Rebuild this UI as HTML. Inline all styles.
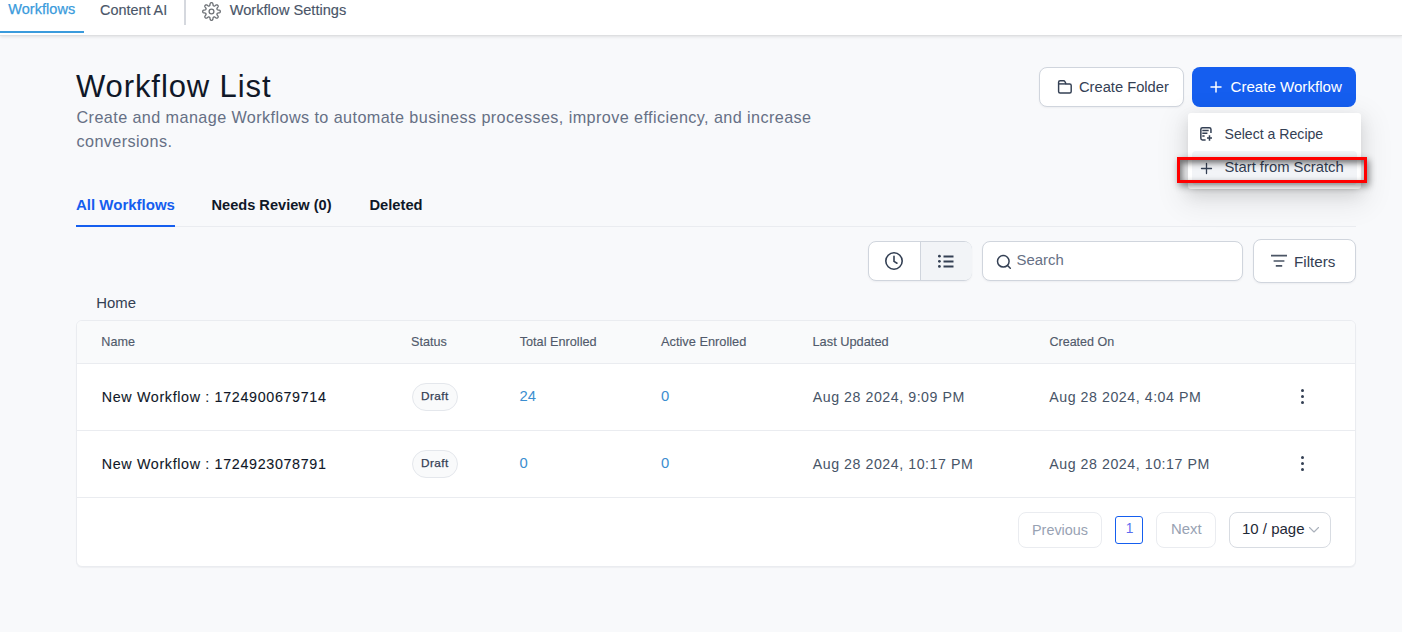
<!DOCTYPE html>
<html><head><meta charset="utf-8"><style>
html,body{margin:0;padding:0;}
body{width:1402px;height:632px;overflow:hidden;background:#f8f9fb;position:relative;font-family:"Liberation Sans",sans-serif;}
.t{position:absolute;white-space:nowrap;line-height:1;}
.r{position:absolute;}
</style></head><body>
<div class="r" style="left:0px;top:0px;width:1402px;height:35px;background:#fff;box-shadow:0 1px 3px rgba(0,0,0,0.10);border-bottom:1px solid #dedfe1;z-index:2"></div>
<div class="t" style="left:8.20px;top:2.33px;font-size:14.5px;color:#3a9bdc;font-weight:400;letter-spacing:0.05px;z-index:3;-webkit-text-stroke:0.25px #3a9bdc">Workflows</div>
<div class="r" style="left:0px;top:31px;width:84px;height:2px;background:#3a9bdc;z-index:3"></div>
<div class="t" style="left:100.00px;top:2.71px;font-size:14.4px;color:#4a5568;font-weight:400;letter-spacing:0px;z-index:3;-webkit-text-stroke:0.15px #4a5568">Content AI</div>
<div class="r" style="left:184px;top:0px;width:2px;height:25px;background:#d5d8de;z-index:3"></div>
<svg class="r" style="left:201.1px;top:0.8px;z-index:3" width="21" height="21" viewBox="0 0 21 21" fill="none" stroke="#6e7277" stroke-width="1.3" stroke-linejoin="round"><path d="M19.30 10.50 L19.29 10.73 L19.26 10.96 L19.20 11.18 L19.09 11.40 L18.89 11.60 L18.55 11.77 L18.05 11.90 L17.47 11.98 L16.97 12.05 L16.62 12.14 L16.41 12.25 L16.28 12.38 L16.18 12.51 L16.11 12.65 L16.04 12.80 L15.99 12.94 L15.94 13.09 L15.91 13.26 L15.92 13.44 L15.99 13.67 L16.17 13.98 L16.48 14.38 L16.83 14.85 L17.09 15.29 L17.21 15.65 L17.21 15.93 L17.14 16.17 L17.02 16.37 L16.88 16.55 L16.72 16.72 L16.55 16.88 L16.37 17.02 L16.17 17.14 L15.93 17.21 L15.65 17.21 L15.29 17.09 L14.85 16.83 L14.38 16.48 L13.98 16.17 L13.67 15.99 L13.44 15.92 L13.26 15.91 L13.09 15.94 L12.94 15.99 L12.80 16.04 L12.65 16.11 L12.51 16.18 L12.38 16.28 L12.25 16.41 L12.14 16.62 L12.05 16.97 L11.98 17.47 L11.90 18.05 L11.77 18.55 L11.60 18.89 L11.40 19.09 L11.18 19.20 L10.96 19.26 L10.73 19.29 L10.50 19.30 L10.27 19.29 L10.04 19.26 L9.82 19.20 L9.60 19.09 L9.40 18.89 L9.23 18.55 L9.10 18.05 L9.02 17.47 L8.95 16.97 L8.86 16.62 L8.75 16.41 L8.62 16.28 L8.49 16.18 L8.35 16.11 L8.20 16.04 L8.06 15.99 L7.91 15.94 L7.74 15.91 L7.56 15.92 L7.33 15.99 L7.02 16.17 L6.62 16.48 L6.15 16.83 L5.71 17.09 L5.35 17.21 L5.07 17.21 L4.83 17.14 L4.63 17.02 L4.45 16.88 L4.28 16.72 L4.12 16.55 L3.98 16.37 L3.86 16.17 L3.79 15.93 L3.79 15.65 L3.91 15.29 L4.17 14.85 L4.52 14.38 L4.83 13.98 L5.01 13.67 L5.08 13.44 L5.09 13.26 L5.06 13.09 L5.01 12.94 L4.96 12.80 L4.89 12.65 L4.82 12.51 L4.72 12.38 L4.59 12.25 L4.38 12.14 L4.03 12.05 L3.53 11.98 L2.95 11.90 L2.45 11.77 L2.11 11.60 L1.91 11.40 L1.80 11.18 L1.74 10.96 L1.71 10.73 L1.70 10.50 L1.71 10.27 L1.74 10.04 L1.80 9.82 L1.91 9.60 L2.11 9.40 L2.45 9.23 L2.95 9.10 L3.53 9.02 L4.03 8.95 L4.38 8.86 L4.59 8.75 L4.72 8.62 L4.82 8.49 L4.89 8.35 L4.96 8.20 L5.01 8.06 L5.06 7.91 L5.09 7.74 L5.08 7.56 L5.01 7.33 L4.83 7.02 L4.52 6.62 L4.17 6.15 L3.91 5.71 L3.79 5.35 L3.79 5.07 L3.86 4.83 L3.98 4.63 L4.12 4.45 L4.28 4.28 L4.45 4.12 L4.63 3.98 L4.83 3.86 L5.07 3.79 L5.35 3.79 L5.71 3.91 L6.15 4.17 L6.62 4.52 L7.02 4.83 L7.33 5.01 L7.56 5.08 L7.74 5.09 L7.91 5.06 L8.06 5.01 L8.20 4.96 L8.35 4.89 L8.49 4.82 L8.62 4.72 L8.75 4.59 L8.86 4.38 L8.95 4.03 L9.02 3.53 L9.10 2.95 L9.23 2.45 L9.40 2.11 L9.60 1.91 L9.82 1.80 L10.04 1.74 L10.27 1.71 L10.50 1.70 L10.73 1.71 L10.96 1.74 L11.18 1.80 L11.40 1.91 L11.60 2.11 L11.77 2.45 L11.90 2.95 L11.98 3.53 L12.05 4.03 L12.14 4.38 L12.25 4.59 L12.38 4.72 L12.51 4.82 L12.65 4.89 L12.80 4.96 L12.94 5.01 L13.09 5.06 L13.26 5.09 L13.44 5.08 L13.67 5.01 L13.98 4.83 L14.38 4.52 L14.85 4.17 L15.29 3.91 L15.65 3.79 L15.93 3.79 L16.17 3.86 L16.37 3.98 L16.55 4.12 L16.72 4.28 L16.88 4.45 L17.02 4.63 L17.14 4.83 L17.21 5.07 L17.21 5.35 L17.09 5.71 L16.83 6.15 L16.48 6.62 L16.17 7.02 L15.99 7.33 L15.92 7.56 L15.91 7.74 L15.94 7.91 L15.99 8.06 L16.04 8.20 L16.11 8.35 L16.18 8.49 L16.28 8.62 L16.41 8.75 L16.62 8.86 L16.97 8.95 L17.47 9.02 L18.05 9.10 L18.55 9.23 L18.89 9.40 L19.09 9.60 L19.20 9.82 L19.26 10.04 L19.29 10.27 L19.30 10.50Z"/><circle cx="10.5" cy="10.5" r="2.4"/></svg><div class="t" style="left:229.70px;top:3.14px;font-size:14.6px;color:#4a5568;font-weight:400;letter-spacing:0px;z-index:3;-webkit-text-stroke:0.15px #4a5568">Workflow Settings</div>
<div class="t" style="left:76.00px;top:70.56px;font-size:31px;color:#101828;font-weight:400;letter-spacing:0.9px;">Workflow List</div>
<div class="t" style="left:76.50px;top:109.39px;font-size:16.2px;color:#667085;font-weight:400;letter-spacing:0.41px;">Create and manage Workflows to automate business processes, improve efficiency, and increase</div>
<div class="t" style="left:76.50px;top:132.99px;font-size:16.2px;color:#667085;font-weight:400;letter-spacing:0.41px;">conversions.</div>
<div class="r" style="left:1039px;top:67px;width:145px;height:40px;background:#fff;border:1px solid #d0d5dd;border-radius:8px;box-sizing:border-box;box-shadow:0 1px 2px rgba(16,24,40,.05)"></div>
<svg class="r" style="left:1052px;top:75px" width="24" height="24" viewBox="0 0 24 24" fill="none" stroke="#344054" stroke-width="1.45" stroke-linejoin="round"><path d="M6.6 7.3Q6.6 5.8 8.1 5.8H11.6Q12.5 5.8 13 6.8L14 8.9H17.7Q19.2 8.9 19.2 10.4V16.4Q19.2 17.9 17.7 17.9H8.1Q6.6 17.9 6.6 16.4Z"/><path d="M6.6 8.9H14"/></svg><div class="t" style="left:1079.00px;top:79.56px;font-size:14.7px;color:#344054;font-weight:400;letter-spacing:0px;">Create Folder</div>
<div class="r" style="left:1192px;top:67px;width:164px;height:40px;background:#155eef;border-radius:8px"></div>
<svg class="r" style="left:1209px;top:80px" width="14" height="14" viewBox="0 0 14 14" stroke="#fff" stroke-width="1.5" stroke-linecap="round"><path d="M7 2v10M2 7h10"/></svg>
<div class="t" style="left:1230.50px;top:79.22px;font-size:15.1px;color:#ffffff;font-weight:400;letter-spacing:0px;">Create Workflow</div>
<div class="r" style="left:1188px;top:113px;width:173px;height:76px;background:#fff;border-radius:3px;box-shadow:0 6px 16px 0 rgba(0,0,0,.10),0 3px 6px -4px rgba(0,0,0,.14),0 9px 28px 8px rgba(0,0,0,.07)"></div>
<svg class="r" style="left:1194px;top:121px" width="24" height="24" viewBox="0 0 24 24" fill="none" stroke="#344054" stroke-width="1.5" stroke-linejoin="round"><path d="M16.95 11.9V8.3Q16.95 6.65 15.3 6.65H8.5Q6.85 6.65 6.85 8.3V17.3Q6.85 18.95 8.5 18.95H11.6"/><path d="M8.3 9.5H14.7M8.3 12.3H13.4M8.3 15H10.6"/><path d="M15.5 14.3V19.7M13 16.9H18"/></svg><div class="t" style="left:1224.50px;top:126.96px;font-size:14.1px;color:#344054;font-weight:400;letter-spacing:0px;">Select a Recipe</div>
<div class="r" style="left:1192px;top:151px;width:165px;height:34px;background:#f2f4f7;border-radius:4px"></div>
<svg class="r" style="left:1199.5px;top:162px" width="13" height="13" viewBox="0 0 13 13" stroke="#344054" stroke-width="1.3" stroke-linecap="round"><path d="M6.5 1.5v10M1.5 6.5h10"/></svg>
<div class="t" style="left:1224.50px;top:160.17px;font-size:14.8px;color:#344054;font-weight:400;letter-spacing:0px;">Start from Scratch</div>
<div class="r" style="left:1177px;top:157px;width:190px;height:26px;border:3px solid #ff0000;box-sizing:border-box;box-shadow:inset 2px 3px 6px rgba(0,0,0,.55),2px 3px 7px rgba(0,0,0,.45);z-index:5"></div>
<div class="r" style="left:76px;top:226px;width:1280px;height:1px;background:#eaecf0"></div>
<div class="t" style="left:76.00px;top:197.30px;font-size:15px;color:#155eef;font-weight:700;letter-spacing:0px;">All Workflows</div>
<div class="r" style="left:76px;top:225px;width:99px;height:2px;background:#155eef"></div>
<div class="t" style="left:211.50px;top:197.64px;font-size:14.6px;color:#101828;font-weight:700;letter-spacing:0px;">Needs Review (0)</div>
<div class="t" style="left:369.50px;top:197.56px;font-size:14.7px;color:#101828;font-weight:700;letter-spacing:0px;">Deleted</div>
<div class="r" style="left:868px;top:241px;width:104px;height:40px;background:#fff;border:1px solid #d0d5dd;border-radius:8px;box-sizing:border-box;overflow:hidden;box-shadow:0 1px 2px rgba(16,24,40,.05)"></div>
<div class="r" style="left:920px;top:242px;width:51px;height:38px;background:#f2f4f7;border-left:1px solid #d0d5dd;border-radius:0 7px 7px 0"></div>
<svg class="r" style="left:884px;top:251px" width="20" height="20" viewBox="0 0 20 20" fill="none" stroke="#344054" stroke-width="1.6" stroke-linecap="round" stroke-linejoin="round"><circle cx="10" cy="10" r="8.2"/><path d="M10 5.2v5.2l3 1.8"/></svg>
<svg class="r" style="left:937px;top:253.6px" width="18" height="16" viewBox="0 0 18 16" fill="none" stroke="#344054" stroke-linecap="round"><path d="M6.5 2.5h10M6.5 7.5h10M6.5 12.5h10" stroke-width="2" stroke-linecap="butt"/><circle cx="2.4" cy="2.2" r="1.4" fill="#344054" stroke="none"/><circle cx="2.4" cy="7.3" r="1.4" fill="#344054" stroke="none"/><circle cx="2.4" cy="12.4" r="1.4" fill="#344054" stroke="none"/></svg>
<div class="r" style="left:982px;top:241px;width:261px;height:40px;background:#fff;border:1px solid #d0d5dd;border-radius:8px;box-sizing:border-box;box-shadow:0 1px 2px rgba(16,24,40,.05)"></div>
<svg class="r" style="left:996.3px;top:253.7px" width="16" height="16" viewBox="0 0 16 16" fill="none" stroke="#344054" stroke-width="1.5" stroke-linecap="round"><circle cx="7.3" cy="7.3" r="5.8"/><path d="M11.5 11.5l2.8 2.8"/></svg>
<div class="t" style="left:1016.50px;top:253.29px;font-size:14.9px;color:#667085;font-weight:400;letter-spacing:0px;">Search</div>
<div class="r" style="left:1253px;top:239px;width:103px;height:44px;background:#fff;border:1px solid #d0d5dd;border-radius:8px;box-sizing:border-box;box-shadow:0 1px 2px rgba(16,24,40,.05)"></div>
<svg class="r" style="left:1270px;top:253px" width="18" height="15" viewBox="0 0 18 15" fill="none" stroke="#4b5565" stroke-width="1.7" stroke-linecap="butt"><path d="M1 2.6h16M3.6 8h10.8M5.8 12.9h6.4"/></svg>
<div class="t" style="left:1294.00px;top:254.33px;font-size:15.2px;color:#344054;font-weight:400;letter-spacing:0px;">Filters</div>
<div class="t" style="left:96.30px;top:296.39px;font-size:14.9px;color:#344054;font-weight:400;letter-spacing:0px;">Home</div>
<div class="r" style="left:76px;top:320px;width:1280px;height:247px;background:#fff;border:1px solid #eaecf0;border-radius:6px;box-shadow:0 1px 1px rgba(16,24,40,.04);box-sizing:border-box;overflow:hidden"></div>
<div class="r" style="left:77px;top:321px;width:1278px;height:42px;background:#f9fafb;border-radius:5px 5px 0 0"></div>
<div class="r" style="left:77px;top:363px;width:1278px;height:1px;background:#eaecf0"></div>
<div class="r" style="left:77px;top:430px;width:1278px;height:1px;background:#eaecf0"></div>
<div class="r" style="left:77px;top:497px;width:1278px;height:1px;background:#eaecf0"></div>
<div class="t" style="left:101.30px;top:336.33px;font-size:12.6px;color:#515a6b;font-weight:400;letter-spacing:0px;-webkit-text-stroke:0.15px #515a6b">Name</div>
<div class="t" style="left:411.00px;top:336.33px;font-size:12.6px;color:#515a6b;font-weight:400;letter-spacing:0px;-webkit-text-stroke:0.15px #515a6b">Status</div>
<div class="t" style="left:519.70px;top:336.25px;font-size:12.7px;color:#515a6b;font-weight:400;letter-spacing:0px;-webkit-text-stroke:0.15px #515a6b">Total Enrolled</div>
<div class="t" style="left:661.00px;top:336.16px;font-size:12.8px;color:#515a6b;font-weight:400;letter-spacing:0px;-webkit-text-stroke:0.15px #515a6b">Active Enrolled</div>
<div class="t" style="left:812.50px;top:336.16px;font-size:12.8px;color:#515a6b;font-weight:400;letter-spacing:0px;-webkit-text-stroke:0.15px #515a6b">Last Updated</div>
<div class="t" style="left:1049.50px;top:336.42px;font-size:12.5px;color:#515a6b;font-weight:400;letter-spacing:0px;-webkit-text-stroke:0.15px #515a6b">Created On</div>
<div class="t" style="left:101.70px;top:389.80px;font-size:14.3px;color:#101828;font-weight:400;letter-spacing:0.66px;-webkit-text-stroke:0.1px #101828">New Workflow : 1724900679714</div>
<div class="r" style="left:412px;top:383px;width:46px;height:28px;background:#f9fafb;border:1px solid #e4e7ec;border-radius:14px;box-sizing:border-box"></div>
<div class="t" style="left:421.00px;top:391.01px;font-size:11.8px;color:#344054;font-weight:400;letter-spacing:0.4px;-webkit-text-stroke:0.25px #344054">Draft</div>
<div class="t" style="left:519.50px;top:389.37px;font-size:14.8px;color:#3b8ed0;font-weight:400;letter-spacing:0px;">24</div>
<div class="t" style="left:661.00px;top:389.37px;font-size:14.8px;color:#3b8ed0;font-weight:400;letter-spacing:0px;">0</div>
<div class="t" style="left:812.70px;top:389.88px;font-size:14.2px;color:#475467;font-weight:400;letter-spacing:0.55px;">Aug 28 2024, 9:09 PM</div>
<div class="t" style="left:1049.20px;top:389.88px;font-size:14.2px;color:#475467;font-weight:400;letter-spacing:0.55px;">Aug 28 2024, 4:04 PM</div>
<div class="r" style="left:1301px;top:389px;width:3px;height:3px;background:#344054;border-radius:50%"></div>
<div class="r" style="left:1301px;top:395px;width:3px;height:3px;background:#344054;border-radius:50%"></div>
<div class="r" style="left:1301px;top:401px;width:3px;height:3px;background:#344054;border-radius:50%"></div>
<div class="t" style="left:101.70px;top:456.80px;font-size:14.3px;color:#101828;font-weight:400;letter-spacing:0.66px;-webkit-text-stroke:0.1px #101828">New Workflow : 1724923078791</div>
<div class="r" style="left:412px;top:450px;width:46px;height:28px;background:#f9fafb;border:1px solid #e4e7ec;border-radius:14px;box-sizing:border-box"></div>
<div class="t" style="left:421.00px;top:458.01px;font-size:11.8px;color:#344054;font-weight:400;letter-spacing:0.4px;-webkit-text-stroke:0.25px #344054">Draft</div>
<div class="t" style="left:519.50px;top:456.37px;font-size:14.8px;color:#3b8ed0;font-weight:400;letter-spacing:0px;">0</div>
<div class="t" style="left:661.00px;top:456.37px;font-size:14.8px;color:#3b8ed0;font-weight:400;letter-spacing:0px;">0</div>
<div class="t" style="left:812.70px;top:456.88px;font-size:14.2px;color:#475467;font-weight:400;letter-spacing:0.55px;">Aug 28 2024, 10:17 PM</div>
<div class="t" style="left:1049.20px;top:456.88px;font-size:14.2px;color:#475467;font-weight:400;letter-spacing:0.55px;">Aug 28 2024, 10:17 PM</div>
<div class="r" style="left:1301px;top:456px;width:3px;height:3px;background:#344054;border-radius:50%"></div>
<div class="r" style="left:1301px;top:462px;width:3px;height:3px;background:#344054;border-radius:50%"></div>
<div class="r" style="left:1301px;top:468px;width:3px;height:3px;background:#344054;border-radius:50%"></div>
<div class="r" style="left:1018px;top:512px;width:84px;height:36px;background:#fff;border:1px solid #eaecf0;border-radius:8px;box-sizing:border-box"></div>
<div class="t" style="left:1032.00px;top:522.81px;font-size:14.4px;color:#98a2b3;font-weight:400;letter-spacing:0px;">Previous</div>
<div class="r" style="left:1115px;top:516px;width:28px;height:28px;background:#fff;border:1px solid #155eef;border-radius:3px;box-sizing:border-box"></div>
<div class="t" style="left:1125.80px;top:522.02px;font-size:13.8px;color:#5b6cf0;font-weight:400;letter-spacing:0px;">1</div>
<div class="r" style="left:1156px;top:512px;width:60px;height:36px;background:#fff;border:1px solid #eaecf0;border-radius:8px;box-sizing:border-box"></div>
<div class="t" style="left:1171.00px;top:522.39px;font-size:14.9px;color:#98a2b3;font-weight:400;letter-spacing:0px;">Next</div>
<div class="r" style="left:1229px;top:512px;width:102px;height:36px;background:#fff;border:1px solid #d8dce2;border-radius:8px;box-sizing:border-box"></div>
<div class="t" style="left:1242.00px;top:521.00px;font-size:15px;color:#1f2937;font-weight:400;letter-spacing:0px;">10 / page</div>
<svg class="r" style="left:1308px;top:525px" width="12" height="10" viewBox="0 0 12 10" fill="none" stroke="#aab1bb" stroke-width="1.1" stroke-linecap="round" stroke-linejoin="round"><path d="M1.5 2.5l4.5 4.5 4.5-4.5"/></svg>
</body></html>
